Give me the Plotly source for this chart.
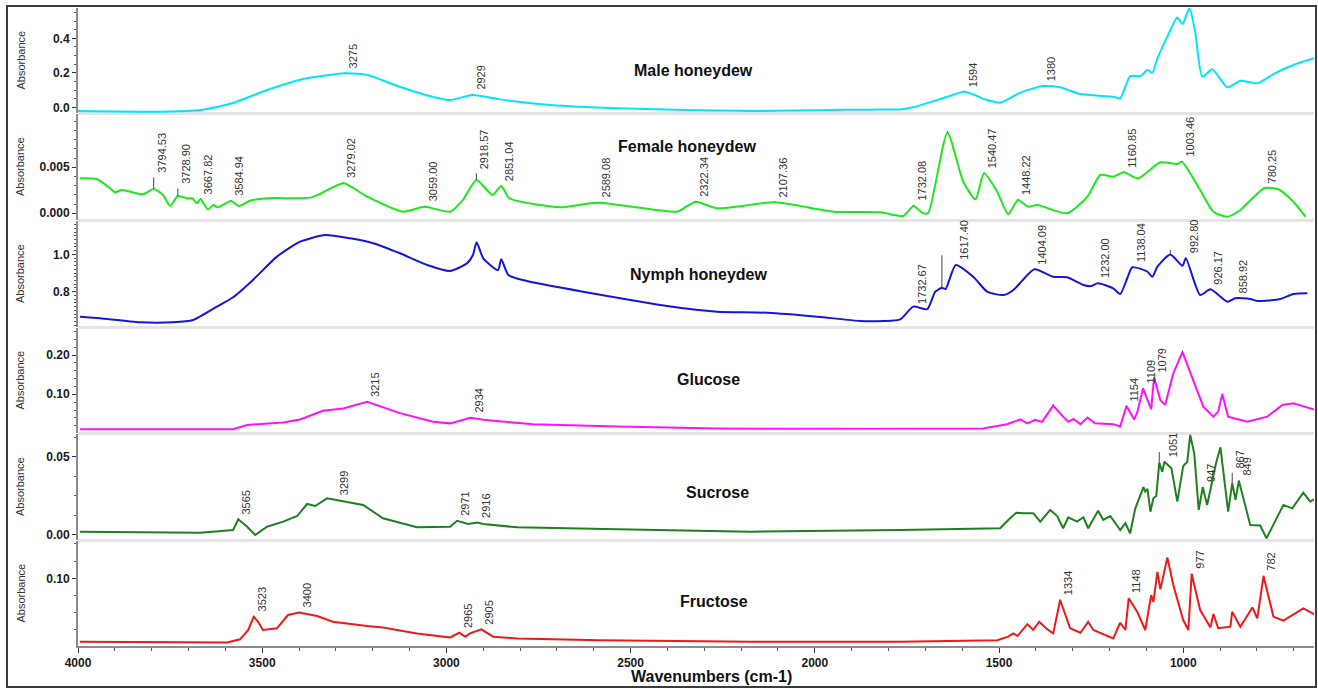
import plotly.graph_objects as go

# ---------------- data (wavenumber cm-1, absorbance) ----------------
male_wn = [4000, 3750, 3668, 3579, 3487, 3397, 3308, 3275, 3215, 3125, 3036, 2990, 2929, 2854, 2718, 2536,
           2175, 1822, 1768, 1733, 1640, 1594, 1532, 1497, 1442, 1380, 1334, 1279, 1190, 1171, 1144, 1116,
           1097, 1084, 1070, 1043, 1016, 1002, 983, 967, 948, 921, 880, 845, 799, 755, 701, 645]
male_abs = [-0.021, -0.025, -0.016, 0.025, 0.10, 0.16, 0.19, 0.197, 0.187, 0.118, 0.06, 0.042, 0.071, 0.046,
            0.013, -0.006, -0.021, -0.012, -0.012, 0.0, 0.061, 0.09, 0.042, 0.027, 0.085, 0.123, 0.116, 0.077,
            0.061, 0.052, 0.181, 0.181, 0.216, 0.20, 0.284, 0.41, 0.52, 0.483, 0.574, 0.43, 0.177, 0.22,
            0.116, 0.154, 0.139, 0.193, 0.245, 0.284]
male_pk_wn = [3275, 2929, 1594, 1380]
male_pk_abs = [0.197, 0.071, 0.09, 0.123]
male_pk_txt = ["3275", "2929", "1594", "1380"]

female_wn = [3995, 3948, 3913, 3900, 3881, 3824, 3794.53, 3769, 3750, 3728.9, 3704, 3690, 3677, 3667.82,
             3647, 3633, 3620, 3584.94, 3563, 3533, 3487, 3370, 3343, 3279.02, 3215, 3118, 3059, 2990, 2955,
             2918.57, 2875, 2851.04, 2829, 2691, 2589.08, 2374, 2346, 2322.34, 2265, 2107.36, 1950, 1822,
             1760, 1732.08, 1706, 1692, 1640, 1597, 1564, 1540.47, 1505, 1475, 1448.22, 1421, 1396, 1315,
             1260, 1225, 1190, 1160.85, 1122, 1062, 1016, 1003.46, 954, 918, 880, 845, 780.25, 742, 701, 668]
female_abs = [0.0038, 0.0037, 0.00272, 0.00228, 0.00253, 0.00207, 0.00264, 0.00199, 0.00079, 0.00188,
              0.00163, 0.00163, 0.00109, 0.00155, 0.00043, 0.0009, 0.00065, 0.00134, 0.00079, 0.00137,
              0.00163, 0.0017, 0.0021, 0.00326, 0.0018, 0.00017, 0.00072, 0.00017, 0.00145, 0.00362,
              0.00199, 0.00297, 0.00163, 0.00065, 0.00115, 0.00017, 0.00079, 0.00126, 0.00054, 0.0012,
              0.00017, 0.0001, -0.0003, 0.00079, 0.0, 0.00006, 0.00876, 0.00343, 0.00152, 0.00435,
              0.00235, -0.00008, 0.00145, 0.00072, 0.0009, 0.0, 0.0018, 0.00416, 0.00398, 0.00446,
              0.0038, 0.00554, 0.00536, 0.00561, 0.00253, 0.00017, -0.00037, 0.00036, 0.00272, 0.00261,
              0.00126, -0.00037]
female_pk_wn = [3794.53, 3728.90, 3667.82, 3584.94, 3279.02, 3059.00, 2918.57, 2851.04, 2589.08, 2322.34,
                2107.36, 1732.08, 1540.47, 1448.22, 1160.85, 1003.46, 780.25]
female_pk_abs = [0.00264, 0.00188, 0.00155, 0.00134, 0.00326, 0.00072, 0.00362, 0.00297, 0.00115, 0.00126,
                 0.0012, 0.00079, 0.00435, 0.00145, 0.00446, 0.00561, 0.00272]
female_pk_txt = ["3794.53", "3728.90", "3667.82", "3584.94", "3279.02", "3059.00", "2918.57", "2851.04",
                 "2589.08", "2322.34", "2107.36", "1732.08", "1540.47", "1448.22", "1160.85", "1003.46", "780.25"]
female_mark_wn = [1640]
female_mark_abs = [0.00876]

nymph_wn = [3995, 3940, 3832, 3742, 3688, 3623, 3579, 3525, 3460, 3397, 3329, 3261, 3199, 3126, 3052, 2990,
            2944, 2928, 2918, 2900, 2860, 2851, 2832, 2781, 2629, 2357, 2265, 2129, 1993, 1877, 1814, 1768,
            1732.67, 1695, 1673, 1655, 1645, 1617.4, 1570, 1532, 1488, 1461, 1442, 1404.09, 1353, 1315, 1271,
            1250, 1232, 1190, 1171, 1152, 1138.04, 1097, 1084, 1070, 1035, 1002, 992.8, 954, 926.17, 880,
            858.92, 818, 799, 736, 701, 663]
nymph_abs = [0.666, 0.657, 0.636, 0.636, 0.648, 0.72, 0.77, 0.863, 0.988, 1.068, 1.104, 1.086, 1.06, 1.006,
             0.943, 0.911, 0.952, 0.997, 1.065, 0.979, 0.916, 0.974, 0.89, 0.857, 0.8, 0.711, 0.693, 0.687,
             0.666, 0.643, 0.643, 0.652, 0.72, 0.706, 0.8, 0.821, 0.814, 0.943, 0.88, 0.8, 0.782, 0.809,
             0.848, 0.92, 0.88, 0.877, 0.836, 0.83, 0.845, 0.818, 0.788, 0.872, 0.931, 0.907, 0.88, 0.934,
             1.0, 0.939, 0.979, 0.782, 0.813, 0.746, 0.765, 0.761, 0.75, 0.761, 0.788, 0.791]
nymph_pk_wn = [1732.67, 1617.40, 1404.09, 1232.00, 1138.04, 992.80, 926.17, 858.92]
nymph_pk_abs = [0.72, 0.943, 0.92, 0.845, 0.931, 0.979, 0.813, 0.765]
nymph_pk_txt = ["1732.67", "1617.40", "1404.09", "1232.00", "1138.04", "992.80", "926.17", "858.92"]
nymph_mark_wn = [1655, 1035]
nymph_mark_abs = [0.821, 1.0]

glucose_wn = [3995, 3579, 3541, 3443, 3397, 3335, 3280, 3215, 3126, 3036, 2990, 2963, 2934, 2900, 2765,
              2536, 2265, 2086, 1768, 1543, 1478, 1442, 1423, 1402, 1383, 1353, 1328, 1312, 1298, 1279,
              1260, 1239, 1190, 1171, 1154, 1133, 1125, 1109, 1087, 1079, 1062, 1049, 1027, 1002, 973, 945,
              918, 905, 894, 878, 826, 772, 731, 701, 641]
glucose_abs = [0.011, 0.011, 0.022, 0.028, 0.036, 0.058, 0.064, 0.081, 0.052, 0.03, 0.026, 0.032, 0.04,
               0.035, 0.024, 0.018, 0.013, 0.012, 0.013, 0.013, 0.024, 0.036, 0.026, 0.035, 0.03, 0.071,
               0.045, 0.03, 0.037, 0.024, 0.041, 0.026, 0.024, 0.018, 0.07, 0.036, 0.053, 0.115, 0.062,
               0.143, 0.085, 0.073, 0.153, 0.208, 0.136, 0.068, 0.043, 0.056, 0.101, 0.043, 0.03, 0.043,
               0.073, 0.077, 0.06]
glucose_pk_wn = [3215, 2934, 1154, 1109, 1079]
glucose_pk_abs = [0.081, 0.04, 0.07, 0.115, 0.143]
glucose_pk_txt = ["3215", "2934", "1154", "1109", "1079"]
glucose_mark_wn = [1353, 1002]
glucose_mark_abs = [0.071, 0.208]

sucrose_wn = [3995, 3669, 3579, 3565, 3541, 3519, 3487, 3443, 3405, 3378, 3356, 3324, 3299, 3226, 3172,
              3080, 2990, 2971, 2941, 2916, 2900, 2808, 2536, 2175, 1768, 1497, 1470, 1453, 1434, 1407,
              1388, 1361, 1342, 1326, 1312, 1288, 1271, 1258, 1231, 1217, 1198, 1171, 1157, 1144, 1130,
              1108, 1103, 1097, 1089, 1081, 1073, 1065, 1057, 1051, 1032, 1016, 1000, 989, 981, 970, 958,
              947, 935, 911, 899, 891, 878, 867, 858, 849, 818, 791, 774, 728, 704, 674, 655, 645]
sucrose_abs = [0.0021, 0.0015, 0.0032, 0.01, 0.0053, 0.0, 0.0053, 0.0085, 0.0121, 0.0198, 0.0185, 0.0234,
               0.0224, 0.0192, 0.0107, 0.0049, 0.0053, 0.0091, 0.007, 0.0079, 0.007, 0.0049, 0.0036, 0.0021,
               0.0032, 0.0043, 0.0107, 0.0142, 0.0139, 0.0139, 0.0085, 0.016, 0.0121, 0.0043, 0.0113,
               0.0085, 0.0113, 0.0043, 0.0155, 0.0096, 0.0121, 0.0032, 0.0075, 0.0011, 0.017, 0.0305,
               0.0277, 0.0295, 0.0149, 0.0234, 0.025, 0.0462, 0.0404, 0.0468, 0.0426, 0.0213, 0.0441,
               0.0468, 0.0639, 0.052, 0.016, 0.0305, 0.0192, 0.0458, 0.056, 0.0415, 0.0149, 0.033, 0.0224,
               0.0347, 0.0064, 0.0061, -0.0021, 0.0192, 0.017, 0.027, 0.0213, 0.0228]
sucrose_pk_wn = [3565, 3299, 2971, 2916, 1051, 947, 867, 849]
sucrose_pk_abs = [0.01, 0.0224, 0.0091, 0.0079, 0.0468, 0.0305, 0.033, 0.0347]
sucrose_pk_txt = ["3565", "3299", "2971", "2916", "1051", "947", "867", "849"]
sucrose_mark_wn = [1065]
sucrose_mark_abs = [0.0462]

fructose_wn = [3995, 3669, 3595, 3560, 3538, 3523, 3511, 3498, 3460, 3430, 3400, 3351, 3308, 3215, 3172,
               3080, 2990, 2965, 2949, 2936, 2905, 2873, 2808, 2583, 2175, 1768, 1505, 1475, 1461, 1450,
               1423, 1407, 1391, 1369, 1353, 1334, 1307, 1279, 1258, 1244, 1190, 1171, 1157, 1148, 1125,
               1103, 1087, 1081, 1070, 1062, 1043, 1027, 1000, 986, 977, 954, 926, 918, 905, 872, 867, 845,
               812, 799, 782, 755, 728, 674, 641]
fructose_abs = [0.0632, 0.0626, 0.0628, 0.0646, 0.07, 0.0777, 0.0748, 0.07, 0.071, 0.0787, 0.0802, 0.0781,
                0.0748, 0.0723, 0.0715, 0.068, 0.0657, 0.0684, 0.066, 0.068, 0.0704, 0.0661, 0.0651, 0.0641,
                0.0632, 0.0632, 0.0641, 0.0661, 0.068, 0.0665, 0.0734, 0.07, 0.0748, 0.0704, 0.068, 0.0874,
                0.071, 0.0684, 0.0748, 0.07, 0.0651, 0.0742, 0.07, 0.0884, 0.0806, 0.07, 0.0903, 0.0864,
                0.1038, 0.0936, 0.1122, 0.0961, 0.0758, 0.07, 0.1025, 0.0816, 0.0715, 0.0793, 0.071, 0.0719,
                0.0806, 0.0719, 0.0831, 0.0768, 0.1013, 0.0777, 0.0754, 0.0826, 0.0787]
fructose_pk_wn = [3523, 3400, 2965, 2905, 1334, 1148, 977, 782]
fructose_pk_abs = [0.0777, 0.0802, 0.0684, 0.0704, 0.0874, 0.0884, 0.1025, 0.1013]
fructose_pk_txt = ["3523", "3400", "2965", "2905", "1334", "1148", "977", "782"]

x_tickvals = [4000, 3500, 3000, 2500, 2000, 1500, 1000]
x_ticktext = ["4000", "3500", "3000", "2500", "2000", "1500", "1000"]

# ---------------- styling ----------------
FONT = "Liberation Sans, Arial, Helvetica, sans-serif"
W, H = 1318, 689
L, R, T, B = 78, 4, 8, 43
PW, PH = W - L - R, H - T - B

def paper_y(px):
    return (H - B - px) / PH

def paper_x(px):
    return (px - L) / PW

panels = [
    dict(name="Male honeydew", wn=male_wn, ab=male_abs, color="#00e5ff", shape="spline",
         top=8, bot=113, rng=[-0.033, 0.5757], tv=[0.0, 0.2, 0.4], tt=["0.0", "0.2", "0.4"], minor=0.05,
         tx=693, ty=70.7, pk=(male_pk_wn, male_pk_abs, male_pk_txt), mk=([], [])),
    dict(name="Female honeydew", wn=female_wn, ab=female_abs, color="#1de81d", shape="spline",
         top=114, bot=220, rng=[-0.00073, 0.01079], tv=[0.0, 0.005], tt=["0.000", "0.005"], minor=0.001,
         tx=687, ty=146.7, pk=(female_pk_wn, female_pk_abs, female_pk_txt), mk=(female_mark_wn, female_mark_abs)),
    dict(name="Nymph honeydew", wn=nymph_wn, ab=nymph_abs, color="#1515e0", shape="spline",
         top=221, bot=327, rng=[0.6107, 1.179], tv=[0.8, 1.0], tt=["0.8", "1.0"], minor=0.02,
         tx=698, ty=274.3, pk=(nymph_pk_wn, nymph_pk_abs, nymph_pk_txt), mk=(nymph_mark_wn, nymph_mark_abs)),
    dict(name="Glucose", wn=glucose_wn, ab=glucose_abs, color="#ff10ff", shape="linear",
         top=328, bot=433, rng=[0.0015, 0.2687], tv=[0.10, 0.20], tt=["0.10", "0.20"], minor=0.02,
         tx=708, ty=379.3, pk=(glucose_pk_wn, glucose_pk_abs, glucose_pk_txt), mk=(glucose_mark_wn, glucose_mark_abs)),
    dict(name="Sucrose", wn=sucrose_wn, ab=sucrose_abs, color="#1f801f", shape="linear",
         top=434, bot=540, rng=[-0.0032, 0.0645], tv=[0.0, 0.05], tt=["0.00", "0.05"], minor=0.0125,
         tx=717, ty=492.3, pk=(sucrose_pk_wn, sucrose_pk_abs, sucrose_pk_txt), mk=(sucrose_mark_wn, sucrose_mark_abs)),
    dict(name="Fructose", wn=fructose_wn, ab=fructose_abs, color="#f01818", shape="linear",
         top=541, bot=646, rng=[0.0607, 0.1217], tv=[0.10], tt=["0.10"], minor=0.01,
         tx=714, ty=601.7, pk=(fructose_pk_wn, fructose_pk_abs, fructose_pk_txt), mk=([], [])),
]

TICK_LEN = {("Female honeydew", "3794.53"): 13, ("Female honeydew", "3728.90"): 9,
            ("Female honeydew", "2918.57"): 8, ("Sucrose", "867"): 12,
            ("Nymph honeydew", "1732.67"): 0}
MARK_LEN = {("Nymph honeydew", 1655): 34, ("Nymph honeydew", 1035): 6, ("Sucrose", 1065): 12}

fig = go.Figure()
layout = dict(
    width=W, height=H, margin=dict(l=L, r=R, t=T, b=B, autoexpand=False),
    paper_bgcolor="white", plot_bgcolor="white", showlegend=False,
    font=dict(family=FONT, color="#222"),
)
annotations = []
shapes = []

axis_line = "#8c8c8c"
tick_col = "#333333"

for i, p in enumerate(panels, start=1):
    ykey = "yaxis" if i == 1 else f"yaxis{i}"
    yref = "y" if i == 1 else f"y{i}"
    fig.add_trace(go.Scatter(x=p["wn"], y=p["ab"], mode="lines", xaxis="x", yaxis=yref,
                             line=dict(color=p["color"], width=2, shape=p["shape"],
                                       smoothing=0.6 if p["shape"] == "spline" else None),
                             hoverinfo="skip"))
    layout[ykey] = dict(
        domain=[paper_y(p["bot"]), paper_y(p["top"])], range=p["rng"], anchor="x",
        showgrid=False, zeroline=False, showline=True, linecolor=axis_line, linewidth=2,
        ticks="outside", ticklen=4, tickwidth=1, tickcolor=tick_col,
        tickmode="array", tickvals=p["tv"], ticktext=p["tt"],
        tickfont=dict(family=FONT, size=12, color="#1a1a1a", weight="bold"),
        minor=dict(ticks="outside", ticklen=2, tickcolor="#555", dtick=p["minor"], tick0=0, showgrid=False),
        fixedrange=True,
    )
    if i < len(panels):
        shapes.append(dict(type="line", xref="paper", x0=0, x1=1, yref="paper",
                           y0=paper_y(p["bot"] + 0.5), y1=paper_y(p["bot"] + 0.5),
                           line=dict(color="#e4e4e4", width=3), layer="below"))
    annotations.append(dict(text="Absorbance", xref="paper", x=paper_x(20), yref=f"{yref} domain", y=0.5,
                            textangle=-90, showarrow=False, xanchor="center", yanchor="middle",
                            font=dict(family=FONT, size=11, color="#333")))
    annotations.append(dict(text=p["name"], xref="paper", x=paper_x(p["tx"]), yref="paper", y=paper_y(p["ty"]),
                            showarrow=False, xanchor="center", yanchor="middle",
                            font=dict(family=FONT, size=16, color="#111", weight="bold")))
    for wn, ab, txt in zip(*p["pk"]):
        t = TICK_LEN.get((p["name"], txt), 2)
        if t > 0:
            annotations.append(dict(x=wn, y=ab, xref="x", yref=yref, text="", showarrow=True,
                                    ax=0, ay=-t, arrowhead=0, arrowwidth=1, arrowcolor="#444", standoff=0))
        annotations.append(dict(x=wn, y=ab, xref="x", yref=yref, text=txt, textangle=-90, showarrow=False,
                                xanchor="left", yanchor="bottom", xshift=1, yshift=t + 2, borderpad=0,
                                font=dict(family=FONT, size=11, color="#333")))
    for wn, ab in zip(*p["mk"]):
        t = MARK_LEN.get((p["name"], wn), 3)
        annotations.append(dict(x=wn, y=ab, xref="x", yref=yref, text="", showarrow=True,
                                ax=0, ay=-t, arrowhead=0, arrowwidth=1, arrowcolor="#444", standoff=0))

layout["xaxis"] = dict(
    domain=[0, 1], range=[4000, 645], anchor="y6", showgrid=False, zeroline=False,
    showline=True, linecolor=axis_line, linewidth=2,
    ticks="outside", ticklen=5, tickwidth=1, tickcolor=tick_col,
    tickmode="array", tickvals=x_tickvals, ticktext=x_ticktext,
    tickfont=dict(family=FONT, size=12, color="#1a1a1a", weight="bold"),
    minor=dict(ticks="outside", ticklen=3, tickcolor="#555", dtick=100, tick0=0, showgrid=False),
    fixedrange=True,
)

annotations.append(dict(text="Wavenumbers (cm-1)", xref="paper", x=paper_x(711), yref="paper", y=paper_y(676),
                        showarrow=False, xanchor="center", yanchor="middle",
                        font=dict(family=FONT, size=16, color="#111", weight="bold")))

shapes.append(dict(type="rect", xref="paper", yref="paper",
                   x0=paper_x(7), x1=paper_x(1316), y0=paper_y(687), y1=paper_y(6),
                   line=dict(color="#3c3c3c", width=2), layer="above"))

layout["annotations"] = annotations
layout["shapes"] = shapes
fig.update_layout(**layout)
fig.write_html("out.html", config={"displayModeBar": False},
               post_script="document.body.style.margin='0px';document.body.style.overflow='hidden';")
